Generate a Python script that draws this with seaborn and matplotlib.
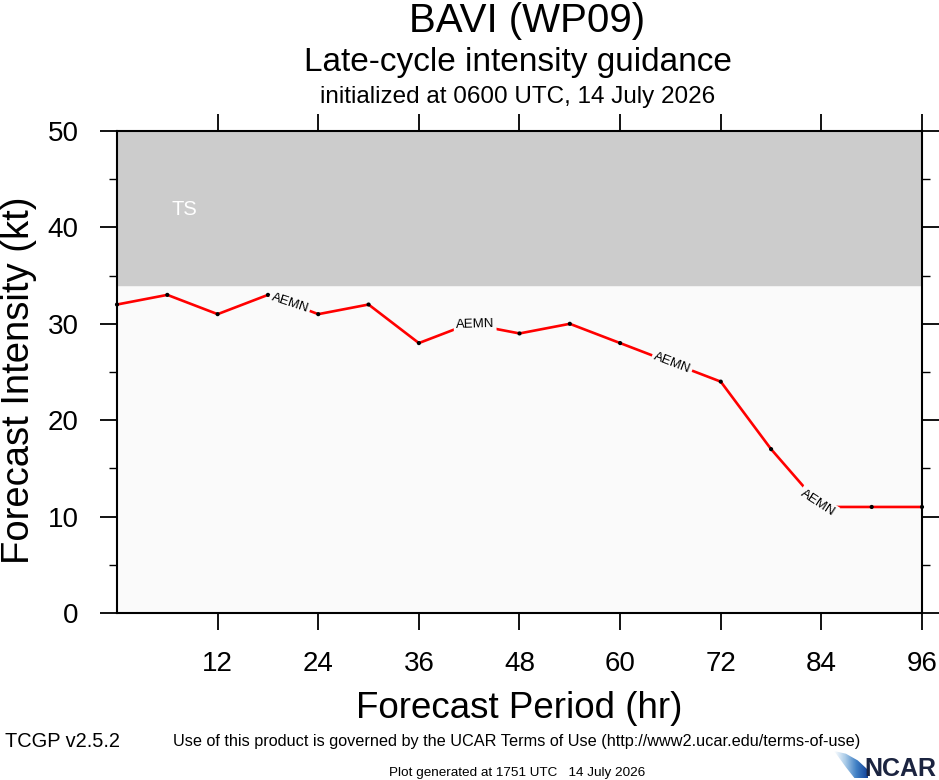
import numpy as np
import pandas as pd
import matplotlib
matplotlib.use("Agg")
import matplotlib.pyplot as plt
from matplotlib.patches import Polygon
import seaborn as sns

# forecast guidance (AEMN), every 6 h
hours = [0, 6, 12, 18, 24, 30, 36, 42, 48, 54, 60, 66, 72, 78, 84, 90, 96]
intensity = [32, 33, 31, 33, 31, 32, 28, 30, 29, 30, 28, 26, 24, 17, 11, 11, 11]
model_name = "AEMN"
label_hours = [20.6, 42.7, 66.2, 83.6]

x_ticks = [12, 24, 36, 48, 60, 72, 84, 96]
y_ticks = [0, 10, 20, 30, 40, 50]
ts_threshold = 34

storm_title = "BAVI (WP09)"
subtitle = "Late-cycle intensity guidance"
init_line = "initialized at 0600 UTC, 14 July 2026"

sns.set_style("ticks")
plt.rcParams["font.family"] = ["Liberation Sans", "DejaVu Sans"]
for key in ["text.color", "axes.labelcolor", "xtick.color", "ytick.color", "axes.edgecolor"]:
    plt.rcParams[key] = "black"
narrow = ["Liberation Sans Narrow", "Liberation Sans", "DejaVu Sans"]

fig = plt.figure(figsize=(9.39, 7.8), dpi=100)
ax = fig.add_axes([117 / 939, 1 - 613 / 780, 805 / 939, 482 / 780])

# intensity category shading
ax.axhspan(0, ts_threshold, color="#fafafa", zorder=0)
ax.axhspan(ts_threshold, 50, color="#cccccc", zorder=0)
ax.text(8, 41.9, "TS", color="white", fontsize=14.5, ha="center", va="center")

df = pd.DataFrame({"hour": hours, "vmax": intensity})
sns.lineplot(data=df, x="hour", y="vmax", color="red", linewidth=1.9, ax=ax, zorder=2)
sns.scatterplot(data=df, x="hour", y="vmax", color="black", s=9, edgecolor="none",
                ax=ax, zorder=3, clip_on=False)

ax.set_xlim(0, 96)
ax.set_ylim(0, 50)
ax.set_xticks(x_ticks)
ax.set_yticks(y_ticks)
ax.set_yticks([5, 15, 25, 35, 45], minor=True)
ax.tick_params(axis="both", which="major", direction="out", length=12.5, width=1.3,
               labelsize=20, top=True, right=True, pad=15)
ax.tick_params(axis="y", which="minor", direction="out", length=6, width=1.0, right=True)
ax.tick_params(axis="x", which="minor", bottom=False, top=False)
for s in ax.spines.values():
    s.set_linewidth(1.5)
ax.set_xlabel("")
ax.set_ylabel("")

# in-line model labels, rotated along the track
fig.canvas.draw()
for lh in label_hours:
    ly = np.interp(lh, hours, intensity)
    p0 = ax.transData.transform((lh - 3, np.interp(lh - 3, hours, intensity)))
    p1 = ax.transData.transform((lh + 3, np.interp(lh + 3, hours, intensity)))
    ang = np.degrees(np.arctan2(p1[1] - p0[1], p1[0] - p0[0]))
    ax.text(lh, ly, model_name, fontsize=9.5, rotation=ang, rotation_mode="anchor",
            ha="center", va="center", zorder=4,
            bbox=dict(facecolor="#fafafa", edgecolor="none", pad=1.5))

# titles
fig.text(527 / 939, 1 - 32 / 780, storm_title, ha="center", va="baseline", fontsize=29)
fig.text(518 / 939, 1 - 71 / 780, subtitle, ha="center", va="baseline", fontsize=24)
fig.text(518 / 939, 1 - 103 / 780, init_line, ha="center", va="baseline", fontsize=17.5)

# axis labels
fig.text(519 / 939, 1 - 718 / 780, "Forecast Period (hr)", ha="center", va="baseline",
         fontsize=26.5)
fig.text(29 / 939, 1 - 380 / 780, "Forecast Intensity (kt)", ha="center", va="baseline",
         rotation=90, fontsize=27.5, rotation_mode="anchor")

# footer
fig.text(517 / 939, 1 - 746 / 780,
         "Use of this product is governed by the UCAR Terms of Use (http://www2.ucar.edu/terms-of-use)",
         ha="center", va="baseline", fontsize=11.7, family=narrow)
fig.text(5 / 939, 1 - 747 / 780, "TCGP v2.5.2", ha="left", va="baseline", fontsize=14.4,
         family=narrow)
fig.text(517 / 939, 1 - 776 / 780, "Plot generated at 1751 UTC   14 July 2026", ha="center",
         va="baseline", fontsize=9.7, family=narrow)
fig.text(936 / 939, 1 - 776 / 780, "NCAR", ha="right", va="baseline", fontsize=18,
         fontweight="bold", color="#1b2440", family=narrow)

# logo swoosh: gradient clipped to a curved wedge
logo = fig.add_axes([834 / 939, 2 / 780, 34 / 939, 27 / 780])
logo.set_axis_off()
grad = np.linspace(0, 1, 64)[None, :]
img = logo.imshow(grad, cmap=matplotlib.colors.LinearSegmentedColormap.from_list(
    "sky", ["#ffffff", "#a9cbe8", "#3f7fc4", "#15449a"]), extent=(0, 1, 0, 1),
    aspect="auto")
shape = Polygon([(0, 1), (0.35, 0.9), (0.7, 0.65), (1, 0.3), (1, 0), (0.6, 0),
                 (0.35, 0.4), (0.12, 0.8)], closed=True, transform=logo.transAxes,
                facecolor="none", edgecolor="none")
logo.add_patch(shape)
img.set_clip_path(shape)
logo.set_xlim(0, 1)
logo.set_ylim(0, 1)

fig.savefig("out.png", dpi=100)
